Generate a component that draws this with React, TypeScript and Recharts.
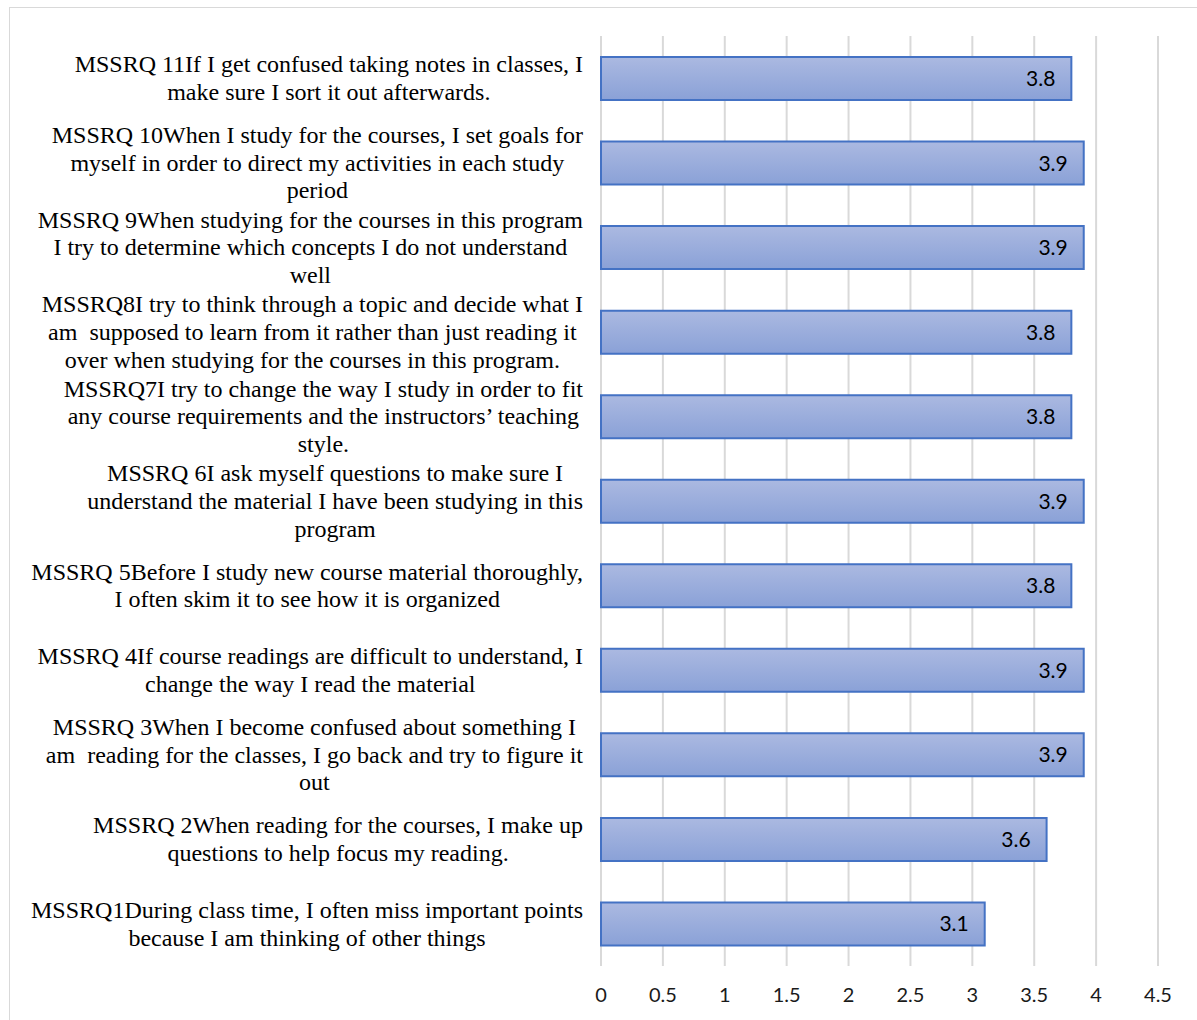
import React from 'react';
import { BarChart, Bar, XAxis, YAxis, CartesianGrid, LabelList } from 'recharts';

// questionnaire items, top to bottom, each split into its printed lines
const itemLines: string[][] = [
    ['MSSRQ 11If I get confused taking notes in classes, I', 'make sure I sort it out afterwards.'],
    ['MSSRQ 10When I study for the courses, I set goals for', 'myself in order to direct my activities in each study', 'period'],
    ['MSSRQ 9When studying for the courses in this program', 'I try to determine which concepts I do not understand', 'well'],
    ['MSSRQ8I try to think through a topic and decide what I', 'am  supposed to learn from it rather than just reading it', 'over when studying for the courses in this program.'],
    ['MSSRQ7I try to change the way I study in order to fit', 'any course requirements and the instructors\u2019 teaching', 'style.'],
    ['MSSRQ 6I ask myself questions to make sure I', 'understand the material I have been studying in this', 'program'],
    ['MSSRQ 5Before I study new course material thoroughly,', 'I often skim it to see how it is organized'],
    ['MSSRQ 4If course readings are difficult to understand, I', 'change the way I read the material'],
    ['MSSRQ 3When I become confused about something I', 'am  reading for the classes, I go back and try to figure it', 'out'],
    ['MSSRQ 2When reading for the courses, I make up', 'questions to help focus my reading.'],
    ['MSSRQ1During class time, I often miss important points', 'because I am thinking of other things'],
];

const meanScores = [3.8, 3.9, 3.9, 3.8, 3.8, 3.9, 3.8, 3.9, 3.9, 3.6, 3.1];

const xTicks = [0, 0.5, 1, 1.5, 2, 2.5, 3, 3.5, 4, 4.5];

const data = itemLines.map((lines, i) => ({
    name: lines.join(' '),
    score: meanScores[i],
}));

const LABEL_FONT = '24px "Liberation Serif"';
const SANS = 'Lato, "Open Sans", sans-serif';
const measureCtx = document.createElement('canvas').getContext('2d');

function textWidth(s: string) {
    if (!measureCtx) return s.length * 11;
    measureCtx.font = LABEL_FONT;
    return measureCtx.measureText(s).width;
}

// multi-line label, centred inside a box that is right-aligned to the axis
const ItemTick = ({ x, y, payload }: any) => {
    const found = itemLines.find((l) => l.join(' ') === payload.value) || [String(payload.value)];
    const widest = Math.max(...found.map(textWidth));
    const cx = x - widest / 2;
    const lh = 27.6;
    const y0 = y - ((found.length - 1) * lh) / 2;
    return (
        <g>
            {found.map((line, i) => (
                <text
                    key={i}
                    x={cx}
                    y={y0 + i * lh}
                    textAnchor="middle"
                    dominantBaseline="central"
                    fill="#000"
                    style={{ font: LABEL_FONT, whiteSpace: 'pre' }}
                >
                    {line}
                </text>
            ))}
        </g>
    );
};

export default function App() {
    return (
        <div style={{ position: 'fixed', left: 0, top: 0, width: 1197, height: 1020, overflow: 'hidden', background: '#fff' }}>
            <div
                style={{
                    position: 'absolute',
                    left: 9,
                    top: 7,
                    width: 1300,
                    height: 1100,
                    border: '1px solid #d9d9d9',
                }}
            />
            <div style={{ position: 'absolute', left: 0, top: 0 }}>
                <BarChart
                    width={1197}
                    height={1020}
                    data={data}
                    layout="vertical"
                    barSize={43}
                    margin={{ top: 36, right: 39, bottom: 10, left: 11 }}
                >
                    <defs>
                        <linearGradient id="barFill" x1="0" y1="0" x2="0" y2="1">
                            <stop offset="0%" stopColor="#abb9e1" />
                            <stop offset="100%" stopColor="#8aa1d7" />
                        </linearGradient>
                    </defs>
                    <CartesianGrid horizontal={false} stroke="#d9d9d9" strokeWidth={2} />
                    <XAxis
                        type="number"
                        domain={[0, 4.5]}
                        ticks={xTicks}
                        axisLine={false}
                        tickLine={false}
                        tickMargin={16}
                        height={44}
                        tick={{ fill: '#1a1a1a', fontSize: 20, fontFamily: SANS }}
                    />
                    <YAxis
                        type="category"
                        dataKey="name"
                        width={590}
                        axisLine={false}
                        tickLine={false}
                        tickSize={0}
                        tickMargin={18}
                        interval={0}
                        tick={<ItemTick />}
                    />
                    <Bar dataKey="score" fill="url(#barFill)" stroke="#4472c4" strokeWidth={2} isAnimationActive={false}>
                        <LabelList
                            dataKey="score"
                            position="insideRight"
                            offset={16}
                            fill="#000"
                            style={{ fontSize: 21, fontFamily: SANS }}
                        />
                    </Bar>
                </BarChart>
            </div>
        </div>
    );
}
